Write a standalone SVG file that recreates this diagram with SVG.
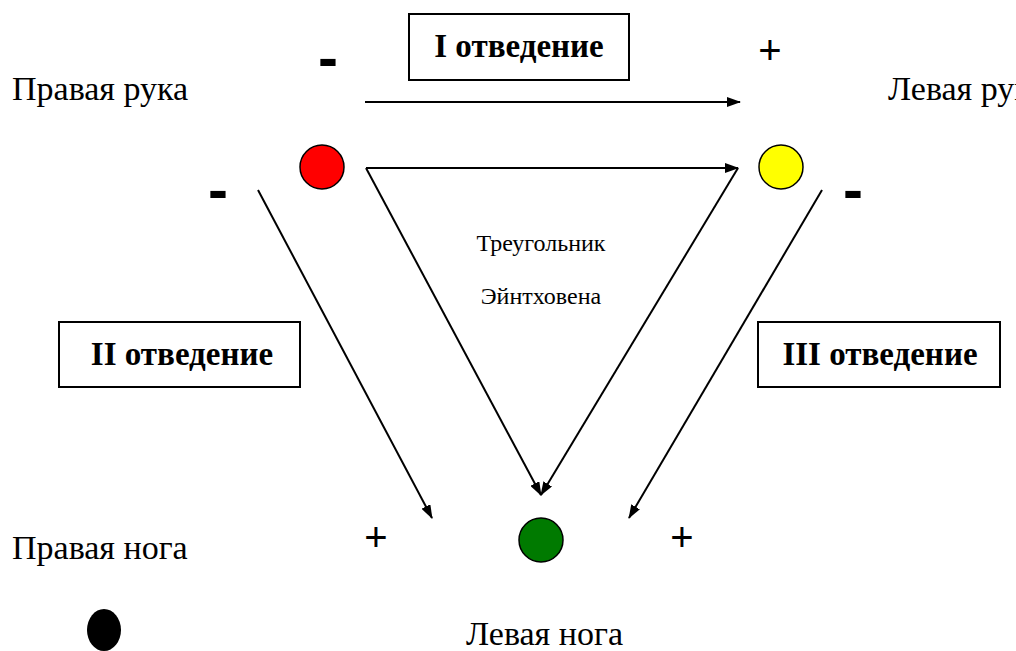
<svg xmlns="http://www.w3.org/2000/svg" width="1016" height="651" viewBox="0 0 1016 651">
<defs>
<marker id="ah" markerWidth="14" markerHeight="10" refX="13" refY="5" orient="auto" markerUnits="userSpaceOnUse">
<path d="M0,0 L14,5 L0,10 z" fill="#000"/>
</marker>
<style>
.lbl{font-family:'Liberation Serif','DejaVu Serif',serif;font-size:34px;fill:#000}
.box{fill:#fff;stroke:#000;stroke-width:2}
.bt{font-family:'Liberation Serif','DejaVu Serif',serif;font-size:33px;font-weight:bold;fill:#000;text-anchor:middle}
.sgn{font-family:'Liberation Sans',sans-serif;font-size:40px;fill:#000;text-anchor:middle}
.mn{font-family:'Liberation Sans',sans-serif;font-size:60px;font-weight:bold;fill:#000;text-anchor:middle}
.cn{stroke:#000;stroke-width:2;fill:none;marker-end:url(#ah)}
.sm{font-family:'Liberation Serif','DejaVu Serif',serif;font-size:24px;fill:#000;text-anchor:middle}
</style>
</defs>
<rect width="1016" height="651" fill="#fff"/>
<g id="labels">
<text class="lbl" x="12" y="100">Правая рука</text>
<text class="lbl" x="888" y="100">Левая рука</text>
<text class="lbl" x="12" y="559">Правая нога</text>
<text class="lbl" x="466" y="645">Левая нога</text>
<text class="sm" x="541" y="251">Треугольник</text>
<text class="sm" x="541" y="304">Эйнтховена</text>
</g>
<g id="signs">
<text class="mn" x="328" y="78">-</text>
<text class="sgn" x="770" y="64">+</text>
<text class="mn" x="218" y="210">-</text>
<text class="mn" x="853" y="210">-</text>
<text class="sgn" x="376" y="551">+</text>
<text class="sgn" x="682" y="551">+</text>
</g>
<g id="lead1">
<rect class="box" x="409" y="14" width="220" height="66"/>
<text class="bt" x="519" y="57">I отведение</text>
</g>
<g id="lead2">
<rect class="box" x="59" y="322" width="241" height="65"/>
<text class="bt" x="182" y="365">II отведение</text>
</g>
<g id="lead3">
<rect class="box" x="758" y="322" width="242" height="65"/>
<text class="bt" x="880" y="365">III отведение</text>
</g>
<g id="electrode-red"><circle cx="322" cy="167" r="22" fill="#ff0000" stroke="#000" stroke-width="1.5"/></g>
<g id="electrode-yellow"><circle cx="781" cy="167" r="22" fill="#ffff00" stroke="#000" stroke-width="1.5"/></g>
<g id="electrode-green"><circle cx="541" cy="540" r="22" fill="#007a00" stroke="#000" stroke-width="1.5"/></g>
<g id="electrode-black"><ellipse cx="104" cy="630" rx="17" ry="21" fill="#000"/></g>
<g id="connectors">
<line class="cn" x1="365" y1="102" x2="740" y2="102"/>
<line class="cn" x1="366" y1="168" x2="738" y2="168"/>
<line class="cn" x1="366" y1="168" x2="541" y2="495"/>
<line class="cn" x1="738" y1="168" x2="541" y2="495"/>
<line class="cn" x1="258" y1="190" x2="432" y2="518"/>
<line class="cn" x1="822" y1="190" x2="629" y2="518"/>
</g>
</svg>
